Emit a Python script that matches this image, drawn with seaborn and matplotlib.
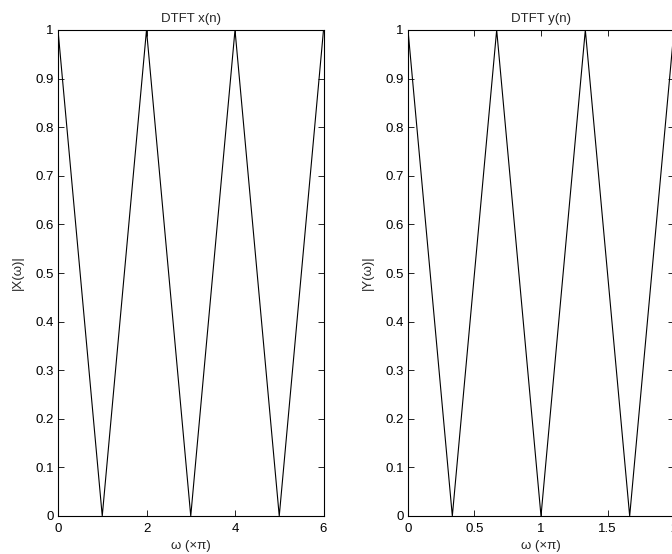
import matplotlib
matplotlib.use("Agg")
import matplotlib.pyplot as plt
import seaborn as sns
import pandas as pd

# data
omega_x = [0, 1, 2, 3, 4, 5, 6]
mag_x = [1, 0, 1, 0, 1, 0, 1]
omega_y = [0, 0.3333, 0.6667, 1.0, 1.3333, 1.6667, 2.0]
mag_y = [1, 0, 1, 0, 1, 0, 1]
xticks_x = [0, 2, 4, 6]
xticks_y = [0, 0.5, 1, 1.5, 2]
yticks = [0, 0.1, 0.2, 0.3, 0.4, 0.5, 0.6, 0.7, 0.8, 0.9, 1]
ytick_labels = ["0", "0.1", "0.2", "0.3", "0.4", "0.5", "0.6", "0.7", "0.8", "0.9", "1"]

sns.set_style("ticks")
plt.rcParams['font.family'] = ['Liberation Sans', 'DejaVu Sans']
FS = 9.5
plt.rcParams['font.size'] = FS

fig = plt.figure(figsize=(6.72, 5.54), dpi=100)
W, H = 672, 554
ax1 = fig.add_axes([58 / W, 38 / H, (323.5 - 58) / W, 486 / H])
ax2 = fig.add_axes([408 / W, 38 / H, 266 / W, 486 / H])

df1 = pd.DataFrame({"w": omega_x, "m": mag_x})
df2 = pd.DataFrame({"w": omega_y, "m": mag_y})

panels = [
    (ax1, df1, xticks_x, ["0", "2", "4", "6"], (0, 6), "DTFT x(n)", "|X(ω)|"),
    (ax2, df2, xticks_y, ["0", "0.5", "1", "1.5", "2"], (0, 2), "DTFT y(n)", "|Y(ω)|"),
]
for ax, df, xt, xtl, xl, title, ylab in panels:
    sns.lineplot(data=df, x="w", y="m", ax=ax, color="black", linewidth=0.8,
                 estimator=None, sort=False)
    ax.set_xlim(*xl)
    ax.set_ylim(0, 1)
    ax.set_xticks(xt)
    ax.set_xticklabels(xtl)
    ax.set_yticks(yticks)
    ax.set_yticklabels(ytick_labels)
    ax.tick_params(direction="in", top=True, right=True, length=4, width=0.6,
                   labelsize=FS, colors="black")
    ax.tick_params(axis="x", pad=5)
    ax.tick_params(axis="y", pad=3)
    for s in ax.spines.values():
        s.set_visible(True)
        s.set_linewidth(0.8)
        s.set_color("black")
    ax.set_title(title, fontsize=FS, pad=6)
    ax.set_xlabel("ω (×π)", fontsize=FS, labelpad=4)
    ax.set_ylabel(ylab, fontsize=FS, labelpad=8)

fig.savefig("out.png", dpi=100, facecolor="white")
